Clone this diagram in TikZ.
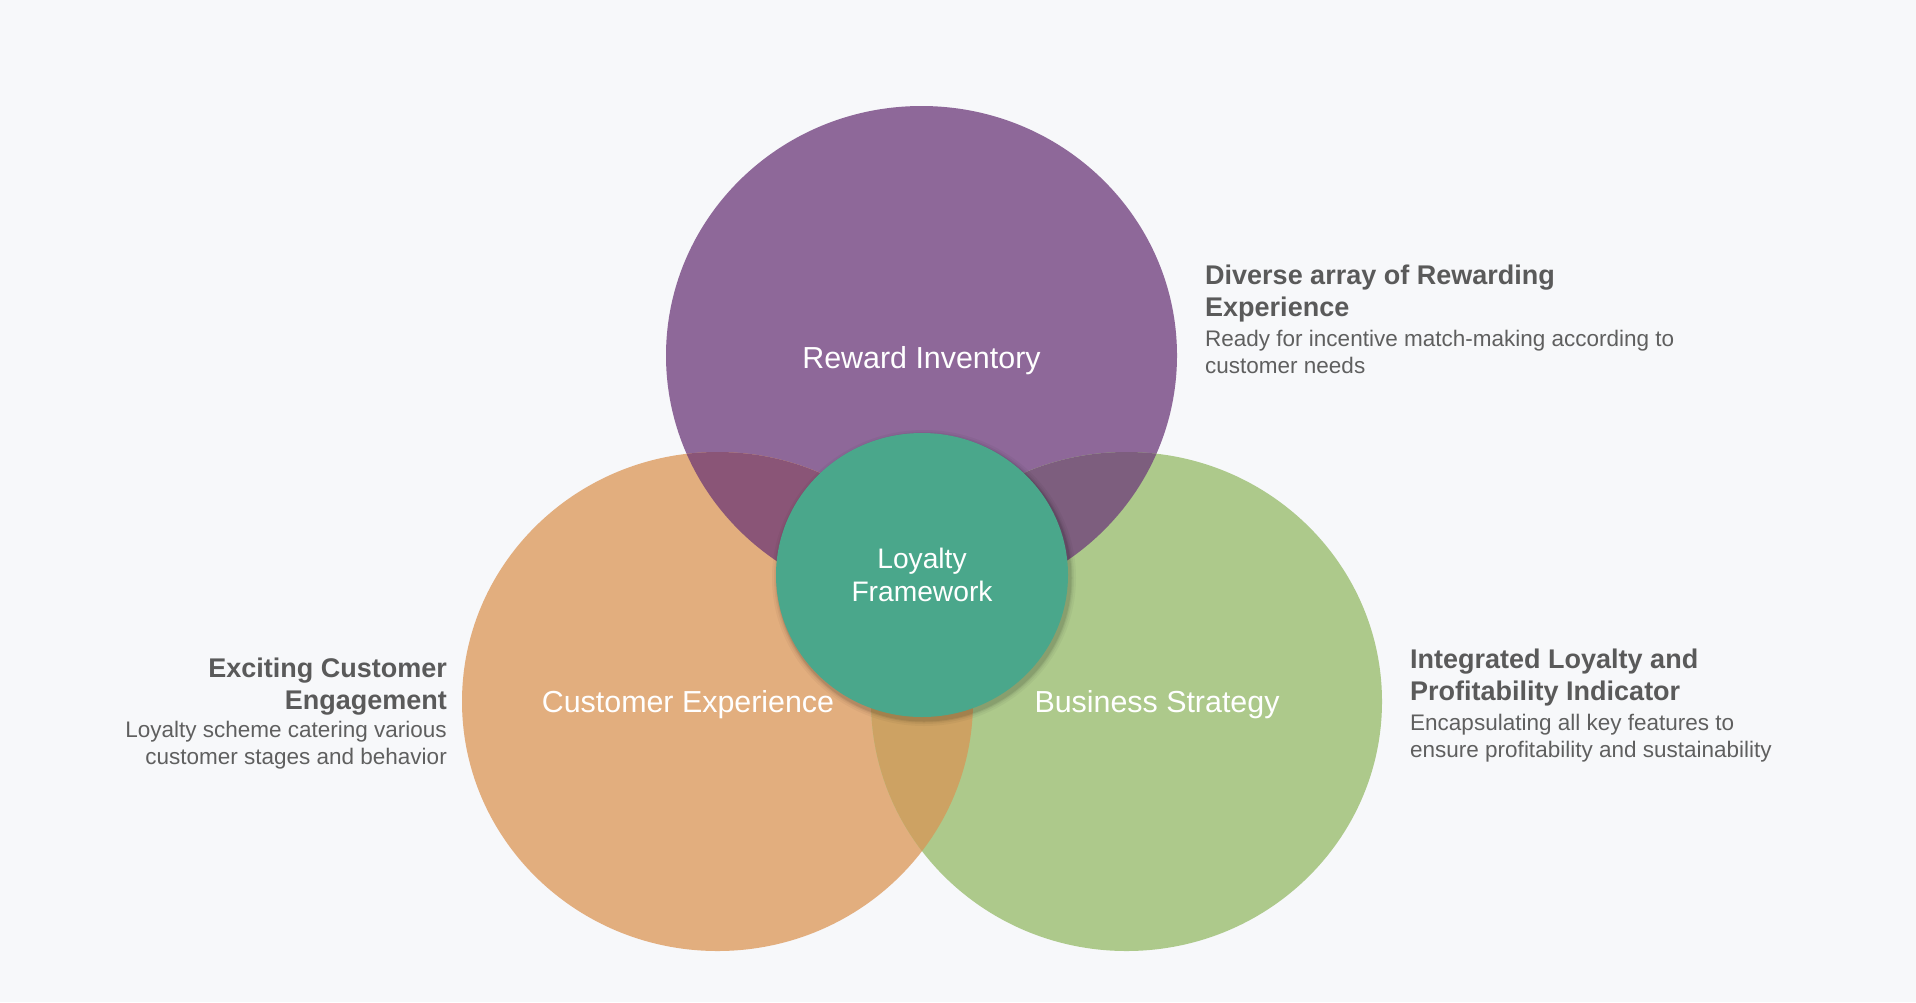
\documentclass[tikz,border=0pt]{standalone}
\usepackage{fontspec}
\setmainfont{Liberation Sans}
\usetikzlibrary{shapes.geometric}
\definecolor{bg}{HTML}{F7F8FA}
\definecolor{purp}{HTML}{8E6899}
\definecolor{oran}{HTML}{E2AE7E}
\definecolor{gree}{HTML}{ADC98B}
\definecolor{teal2}{HTML}{4AA78B}
\definecolor{po}{HTML}{8A5577}
\definecolor{pg}{HTML}{7D5E7E}
\definecolor{og}{HTML}{CDA263}
\definecolor{ttl}{HTML}{5A5A5A}
\definecolor{dsc}{HTML}{5F5F5F}
\begin{document}
\begin{tikzpicture}[x=1pt,y=-1pt,
  bigc/.style={ellipse, minimum width=511pt, minimum height=499pt, inner sep=0pt, draw=none},
  clabel/.style={text=white, font=\fontsize{30.4}{36}\selectfont, inner sep=0pt, anchor=base},
  ttlr/.style={text=ttl, font=\bfseries\fontsize{27}{32}\selectfont, inner sep=0pt, anchor=base west, align=left},
  dscr/.style={text=dsc, font=\fontsize{22.5}{27.5}\selectfont, inner sep=0pt, anchor=base west, align=left},
  ttll/.style={text=ttl, font=\bfseries\fontsize{27}{32}\selectfont, inner sep=0pt, anchor=base east, align=right},
  dscl/.style={text=dsc, font=\fontsize{22.5}{27.5}\selectfont, inner sep=0pt, anchor=base east, align=right}]
\useasboundingbox (0,0) rectangle (1916,1002);
\fill[bg] (0,0) rectangle (1916,1002);

% big circles
\node[bigc, fill=purp] (reward) at (921.5,355.5) {};
\node[bigc, fill=oran] (customer) at (717.5,701.5) {};
\node[bigc, fill=gree] (business) at (1126.5,701.5) {};

% overlaps
\begin{scope}
  \clip (reward.center) ellipse [x radius=255.5pt, y radius=249.5pt];
  \fill[po] (customer.center) ellipse [x radius=255.5pt, y radius=249.5pt];
\end{scope}
\begin{scope}
  \clip (reward.center) ellipse [x radius=255.5pt, y radius=249.5pt];
  \fill[pg] (business.center) ellipse [x radius=255.5pt, y radius=249.5pt];
\end{scope}
\begin{scope}
  \clip (customer.center) ellipse [x radius=255.5pt, y radius=249.5pt];
  \fill[og] (business.center) ellipse [x radius=255.5pt, y radius=249.5pt];
\end{scope}

% shadow of core
\foreach \r/\o in {6/0.035,4/0.045,2.5/0.06,1.5/0.08}
  \fill[black, opacity=\o] (924,578) ellipse [x radius=146pt+\r pt, y radius=142pt+\r pt];

% core circle
\node[ellipse, minimum width=292pt, minimum height=284pt, inner sep=0pt, fill=teal2, text=white,
      align=center, font=\fontsize{28.2}{33}\selectfont] (core) at (922,575) {Loyalty\\Framework};

% circle labels
\node[clabel] (rewardlbl) at (921.5,368) {Reward Inventory};
\node[clabel] (customerlbl) at (688,712) {Customer Experience};
\node[clabel] (businesslbl) at (1157,712) {Business Strategy};

% side texts (anchored at the baseline of the last line)
\node[ttlr] (t1) at (1205,316) {Diverse array of Rewarding\\Experience};
\node[dscr] (d1) at (1205,373.5) {Ready for incentive match-making according to\\customer needs};

\node[ttlr] (t2) at (1410,700) {Integrated Loyalty and\\Profitability Indicator};
\node[dscr] (d2) at (1410,757.5) {Encapsulating all key features to\\ensure profitability and sustainability};

\node[ttll] (t3) at (447,709) {Exciting Customer\\Engagement};
\node[dscl] (d3) at (447,764.5) {Loyalty scheme catering various\\customer stages and behavior};
\end{tikzpicture}
\end{document}
